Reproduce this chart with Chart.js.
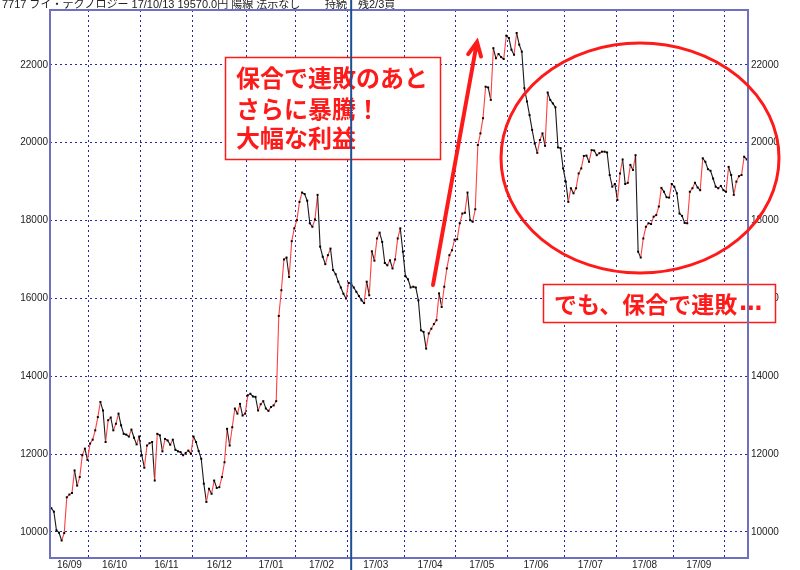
<!DOCTYPE html>
<html>
<head>
<meta charset="utf-8">
<script src="https://cdn.jsdelivr.net/npm/chart.js@4/dist/chart.umd.min.js"></script>
<style>
  html, body { margin: 0; padding: 0; background: #fff; }
  #wrap { width: 800px; height: 570px; }
</style>
</head>
<body>
<div id="wrap"><canvas id="priceChart" width="800" height="570"></canvas></div>
<script>
// daily closes, 2016/09 .. 2017/10/13 (one value per trading day)
const monthLabels = ['16/09', '16/10', '16/11', '16/12', '17/01', '17/02', '17/03',
  '17/04', '17/05', '17/06', '17/07', '17/08', '17/09'];
// index of the first trading day of each month (last one = 17/10)
const monthStarts = [0, 15, 35, 55, 76, 95, 115, 137, 157, 177, 199, 219, 241, 261];
const yTicks = [10000, 12000, 14000, 16000, 18000, 20000, 22000];
const markerIndex = 116;

const prices = [
  10610, 10520, 10040, 9980, 9780, 9970, 10890, 10960, 11000, 11580,
  11190, 11410, 11970, 12140, 11850, 12270, 12370, 12610, 12950, 13340,
  13120, 12310, 12870, 12940, 12610, 12780, 13040, 12740, 12520, 12500,
  12450, 12630, 12420, 12250, 12450, 11970, 11650, 12220, 12280, 12310,
  11320, 12520, 12480, 12070, 12390, 12350, 12240, 12370, 12110, 12070,
  12050, 11970, 12030, 12090, 12010, 12450, 12310, 12080, 11880, 11240,
  10770, 11110, 10980, 11320, 11130, 11150, 11410, 11790, 12650, 12220,
  12690, 13170, 13040, 13290, 12990, 13040, 13510, 13550, 13480, 13470,
  13120, 13280, 13360, 13170, 13110, 13210, 13250, 13360, 15550, 16210,
  17000, 17050, 16550, 17470, 17800, 18010, 18480, 18720, 18680, 18510,
  17930, 17840, 18030, 18660, 17330, 17070, 16880, 17110, 17280, 16730,
  16620, 16430, 16280, 16120, 16000, 16400, 16380, 16280, 16170, 16060,
  15950, 15880, 16430, 16080, 17210, 16970, 17540, 17690, 17450, 16910,
  16850, 16980, 16770, 17000, 17540, 17800, 17200, 16570, 16490, 16280,
  16300, 16280, 15950, 15180, 15140, 14710, 15100, 15220, 15340, 15440,
  16130, 15780, 16300, 16770, 17110, 17240, 17510, 17520, 17930, 18180,
  18200, 18720, 18010, 17970, 18290, 19940, 20240, 20630, 21440, 21420,
  21100, 22430, 22170, 22280, 22200, 22150, 22750, 22690, 22390, 22260,
  22820, 22520, 22340, 21400, 21060, 20710, 20330, 19980, 19740, 20070,
  20240, 19920, 21290, 21100, 21010, 20910, 19880, 19860, 19340, 19000,
  18480, 18830, 18700, 18830, 19210, 19340, 19660, 19670, 19510, 19810,
  19800, 19680, 19730, 19770, 19770, 19750, 19170, 18870, 18940, 18530,
  19210, 19570, 18940, 18970, 19430, 19300, 19680, 17200, 17050, 17540,
  17840, 17930, 17910, 18100, 18140, 18360, 18840, 18740, 18600, 18590,
  18940, 18870, 18700, 18180, 18120, 17940, 17930, 18740, 18830, 18970,
  18850, 18780, 19600, 19510, 19320, 19280, 19080, 18870, 18830, 18890,
  18780, 18740, 19380, 19170, 18660, 19000, 19140, 19170, 19640, 19570
];

const headerText = '7717 ブイ・テクノロジー 17/10/13 19570.0円 陽線 法示なし';
const lastIndex = prices.length - 1;
const gridColor = '#2a2aa0';
const red = '#ff1a1a';

const points = prices.map((v, i) => ({ x: i, y: v }));
const monthMids = monthLabels.map((_, k) => (monthStarts[k] + monthStarts[k + 1]) / 2 - 0.5);

// header line, boxes, ellipse, arrow and the blue divider
const overlay = {
  id: 'overlay',
  beforeDatasetsDraw(chart) {
    const c = chart.ctx;
    c.save();
    c.fillStyle = '#fff';
    c.strokeStyle = red;
    c.lineWidth = 1.5;
    c.fillRect(225.5, 57.5, 215, 102);
    c.strokeRect(225.5, 57.5, 215, 102);
    c.fillRect(543.5, 284.5, 232, 38);
    c.strokeRect(543.5, 284.5, 232, 38);
    c.fillStyle = red;
    c.textBaseline = 'middle';
    c.font = 'bold 24px "Noto Sans CJK JP"';
    c.fillText('保合で連敗のあと', 236, 78);
    c.fillText('さらに暴騰！', 236, 109);
    c.fillText('大幅な利益', 236, 138);
    c.font = 'bold 23px "Noto Sans CJK JP"';
    const msg = 'でも、保合で連敗';
    c.fillText(msg, 554, 304);
    const w = c.measureText(msg).width;
    c.font = 'bold 23px "DejaVu Sans"';
    c.fillText('…', 554 + w + 2, 304);
    c.restore();
  },
  afterDraw(chart) {
    const c = chart.ctx;
    const a = chart.chartArea;
    c.save();
    // frame
    c.strokeStyle = '#7070c0';
    c.lineWidth = 2;
    c.strokeRect(a.left, a.top, a.right - a.left, a.bottom - a.top);
    // divider
    const xm = chart.scales.x.getPixelForValue(markerIndex);
    c.strokeStyle = '#1d4f91';
    c.lineWidth = 2;
    c.beginPath();
    c.moveTo(xm, 0);
    c.lineTo(xm, chart.height);
    c.stroke();
    // header
    c.fillStyle = '#222';
    c.font = '11px "Liberation Sans", "Noto Sans CJK JP"';
    c.textBaseline = 'alphabetic';
    c.fillText(headerText, 2, 8);
    c.fillText('持続', 325, 8);
    c.fillText('残2/3買', 358, 8);
    // ellipse
    c.strokeStyle = red;
    c.lineWidth = 3;
    c.beginPath();
    c.ellipse(640, 158, 139, 115, 0, 0, Math.PI * 2);
    c.stroke();
    // arrow
    const x0 = 433, y0 = 285, x1 = 477, y1 = 42;
    const ang = Math.atan2(y1 - y0, x1 - x0);
    c.lineWidth = 4;
    c.lineCap = 'round';
    c.beginPath();
    c.moveTo(x0, y0);
    c.lineTo(x1, y1);
    c.moveTo(x1 - 15 * Math.cos(ang - 0.45), y1 - 15 * Math.sin(ang - 0.45));
    c.lineTo(x1, y1);
    c.lineTo(x1 - 15 * Math.cos(ang + 0.45), y1 - 15 * Math.sin(ang + 0.45));
    c.stroke();
    c.restore();
  }
};

const tickFont = { family: '"Liberation Sans", Arial', size: 10 };

new Chart(document.getElementById('priceChart'), {
  type: 'line',
  data: {
    datasets: [{
      data: points,
      borderWidth: 1.1,
      segment: {
        borderColor: ctx => ctx.p1.parsed.y >= ctx.p0.parsed.y ? '#ff4040' : '#1a1a1a'
      },
      pointStyle: 'rect',
      pointRadius: 1.4,
      pointBackgroundColor: '#000',
      pointBorderWidth: 0,
      tension: 0
    }]
  },
  options: {
    responsive: false,
    animation: false,
    devicePixelRatio: 1,
    layout: { padding: { top: 10, left: 0, right: 0, bottom: 0 } },
    plugins: {
      legend: { display: false },
      tooltip: { enabled: false }
    },
    scales: {
      x: {
        type: 'linear',
        position: 'bottom',
        min: -0.5,
        max: lastIndex + 0.5,
        afterBuildTicks: s => { s.ticks = monthStarts.slice(1).map(v => ({ value: v - 0.5 })); },
        afterFit: s => { s.height = 0; },
        ticks: { display: false },
        grid: { color: gridColor, lineWidth: 1, drawTicks: false },
        border: { display: false, dash: [2, 3] }
      },
      xl: {
        type: 'linear',
        position: 'bottom',
        min: -0.5,
        max: lastIndex + 0.5,
        afterBuildTicks: s => { s.ticks = monthMids.map(v => ({ value: v })); },
        afterFit: s => { s.height = 12; },
        ticks: {
          autoSkip: false,
          maxRotation: 0,
          padding: 1,
          color: '#222',
          font: tickFont,
          callback: (v, i) => monthLabels[i]
        },
        grid: { display: false, drawTicks: false },
        border: { display: false }
      },
      y: {
        position: 'left',
        min: 9330,
        max: 23410,
        afterBuildTicks: s => { s.ticks = yTicks.map(v => ({ value: v })); },
        afterFit: s => { s.width = 50; },
        ticks: { padding: 2, color: '#222', font: tickFont, callback: v => String(v) },
        grid: { color: gridColor, lineWidth: 1, drawTicks: false },
        border: { display: false, dash: [2, 3] }
      },
      y2: {
        position: 'right',
        min: 9330,
        max: 23410,
        afterBuildTicks: s => { s.ticks = yTicks.map(v => ({ value: v })); },
        afterFit: s => { s.width = 52; },
        ticks: { padding: 3, color: '#222', font: tickFont, callback: v => String(v) },
        grid: { display: false, drawTicks: false },
        border: { display: false }
      }
    }
  },
  plugins: [overlay]
});
</script>
</body>
</html>
